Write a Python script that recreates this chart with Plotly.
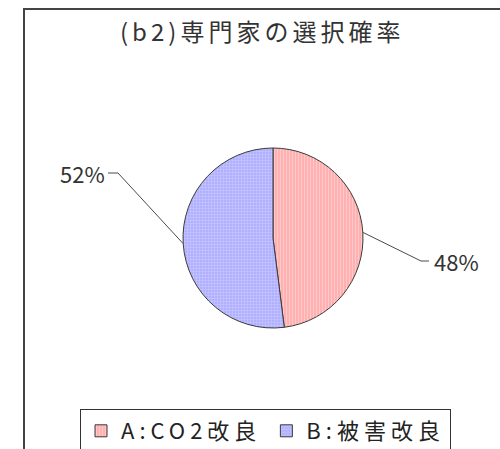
import math
import plotly.graph_objects as go

# Data
labels = ["A:CO2改良", "B:被害改良"]
values = [48, 52]
colors = ["#FFB0B0", "#B0B0FF"]
stripe = ["#FFCCCC", "#CCCCFF"]
title = "(b2)専門家の選択確率"

W, H = 500, 449
FONT = "Noto Sans CJK JP"

# Pie placement in pixels
cx, cy, r = 273, 238, 90


def px(x):
    return x / W


def py(y):
    return 1 - y / H


def spaced(text, gap):
    return f'<span style="letter-spacing:{gap}px">{text}</span>'


fig = go.Figure()
fig.add_trace(go.Pie(
    labels=[spaced(t, 5) for t in labels],
    values=values,
    sort=False,
    direction="clockwise",
    rotation=0,
    textinfo="none",
    hoverinfo="percent",
    marker=dict(
        colors=colors,
        line=dict(color="#3a3a3a", width=1),
        pattern=dict(shape=["|", "+"], fgcolor=stripe, bgcolor=colors,
                     size=3, solidity=0.3, fillmode="replace"),
    ),
    domain=dict(x=[px(cx - r), px(cx + r)], y=[py(cy + r), py(cy - r)]),
))

# Leader lines and percentage labels, anchored at each slice's mid angle
total = sum(values)
start = 0.0
label_pos = [  # (elbow x, label-side x, y, text anchor)
    (421, 429, 261, "left"),
    (118, 108, 173, "right"),
]
shapes = []
annotations = []
for v, (ex, lx, ly, anchor) in zip(values, label_pos):
    mid = start + v / total * 360 / 2
    start += v / total * 360
    a = math.radians(mid)
    sx = cx + r * math.sin(a)
    sy = cy - r * math.cos(a)
    path = f"M {px(sx)},{py(sy)} L {px(ex)},{py(ly)} L {px(lx)},{py(ly)}"
    shapes.append(dict(type="path", xref="paper", yref="paper", path=path,
                       line=dict(color="#4a4a4a", width=1)))
    annotations.append(dict(
        x=px(lx + (3 if anchor == "left" else -1)), y=py(ly),
        xref="paper", yref="paper", xanchor=anchor, yanchor="middle",
        text=f"{round(v / total * 100)}%", showarrow=False,
        font=dict(family=FONT, size=22, color="#333333"),
    ))

# Title
annotations.append(dict(
    x=px(262), y=py(31), xref="paper", yref="paper",
    xanchor="center", yanchor="middle", text=spaced(title, 4), showarrow=False,
    font=dict(family=FONT, size=24, color="#333333"),
))

# Chart area frame (continues past the right and bottom edges)
shapes.append(dict(type="rect", xref="paper", yref="paper",
                   x0=px(24), x1=1.2, y0=-0.2, y1=py(9),
                   line=dict(color="#444444", width=2), fillcolor="rgba(0,0,0,0)"))

fig.update_layout(
    width=W, height=H,
    margin=dict(l=0, r=0, t=0, b=0, autoexpand=False),
    paper_bgcolor="white",
    plot_bgcolor="white",
    shapes=shapes,
    annotations=annotations,
    showlegend=True,
    legend=dict(
        orientation="h",
        x=px(80), y=py(409), xanchor="left", yanchor="top",
        bordercolor="#333333", borderwidth=1,
        font=dict(family=FONT, size=22, color="#222222"),
        itemwidth=30,
        traceorder="normal",
    ),
)

fig.write_html("out.html")
